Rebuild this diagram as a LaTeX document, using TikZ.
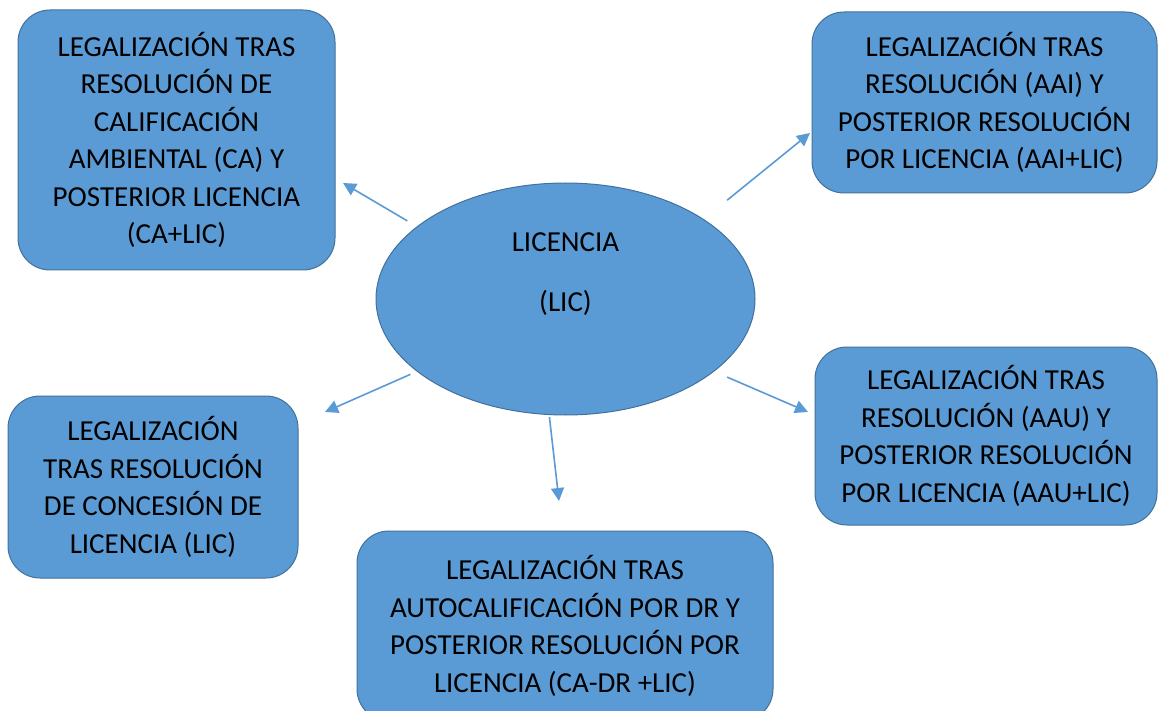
\documentclass[tikz,border=0pt]{standalone}
\usepackage{fontspec}
\setmainfont{Carlito}
\usetikzlibrary{shapes.geometric, arrows.meta}
\definecolor{fillblue}{HTML}{5B9BD5}
\definecolor{edgeblue}{HTML}{41719C}

\begin{document}
\begin{tikzpicture}[
    x=1pt, y=-1pt,
    box/.style={
        rectangle,
        rounded corners=32pt,
        draw=edgeblue,
        fill=fillblue,
        line width=1pt,
        align=center,
        inner sep=0pt,
        font=\fontsize{29}{37.5}\selectfont
    },
    hub/.style={
        ellipse,
        draw=edgeblue,
        fill=fillblue,
        line width=1pt,
        inner sep=0pt
    },
    arr/.style={draw=fillblue, line width=1.6pt, -{Triangle[length=13pt, width=13pt]}}
]

\clip (0,0) rectangle (1159,711);

\node[hub, minimum width=379pt, minimum height=232pt] (lic) at (565.5,299) {};
\node[align=center, font=\fontsize{29}{37.5}\selectfont] (lictxt) at (565.5,274) {LICENCIA\\[22pt](LIC)};

\node[box, minimum width=317pt, minimum height=260pt] (ca) at (176.5,140)
    {LEGALIZACIÓN TRAS\\RESOLUCIÓN DE\\CALIFICACIÓN\\AMBIENTAL (CA) Y\\POSTERIOR LICENCIA\\(CA+LIC)};
\node[box, minimum width=345pt, minimum height=181pt] (aai) at (984.5,102.5)
    {LEGALIZACIÓN TRAS\\RESOLUCIÓN (AAI) Y\\POSTERIOR RESOLUCIÓN\\POR LICENCIA (AAI+LIC)};
\node[box, minimum width=290pt, minimum height=182pt] (conc) at (153,487)
    {LEGALIZACIÓN\\TRAS RESOLUCIÓN\\DE CONCESIÓN DE\\LICENCIA (LIC)};
\node[box, minimum width=342pt, minimum height=178pt] (aau) at (986,436)
    {LEGALIZACIÓN TRAS\\RESOLUCIÓN (AAU) Y\\POSTERIOR RESOLUCIÓN\\POR LICENCIA (AAU+LIC)};
\node[box, minimum width=416pt, minimum height=190pt] (dr) at (565,626)
    {LEGALIZACIÓN TRAS\\AUTOCALIFICACIÓN POR DR Y\\POSTERIOR RESOLUCIÓN POR\\LICENCIA (CA-DR +LIC)};

% arrow tips, short of the boxes
\coordinate (tipca) at (343,183);
\coordinate (tipaai) at (810,133);
\coordinate (tipconc) at (325,412);
\coordinate (tipaau) at (808,412);
\coordinate (tipdr) at (559,501);

\draw[arr, shorten <=11pt] (lic.154.5) -- (tipca);
\draw[arr, shorten <=30pt] (lic.30.7) -- (tipaai);
\draw[arr, shorten <=7pt] (lic.206.3) -- (tipconc);
\draw[arr, shorten <=14pt] (lic.334.2) -- (tipaau);
\draw[arr, shorten <=2pt] (lic.262) -- (tipdr);

\end{tikzpicture}
\end{document}
